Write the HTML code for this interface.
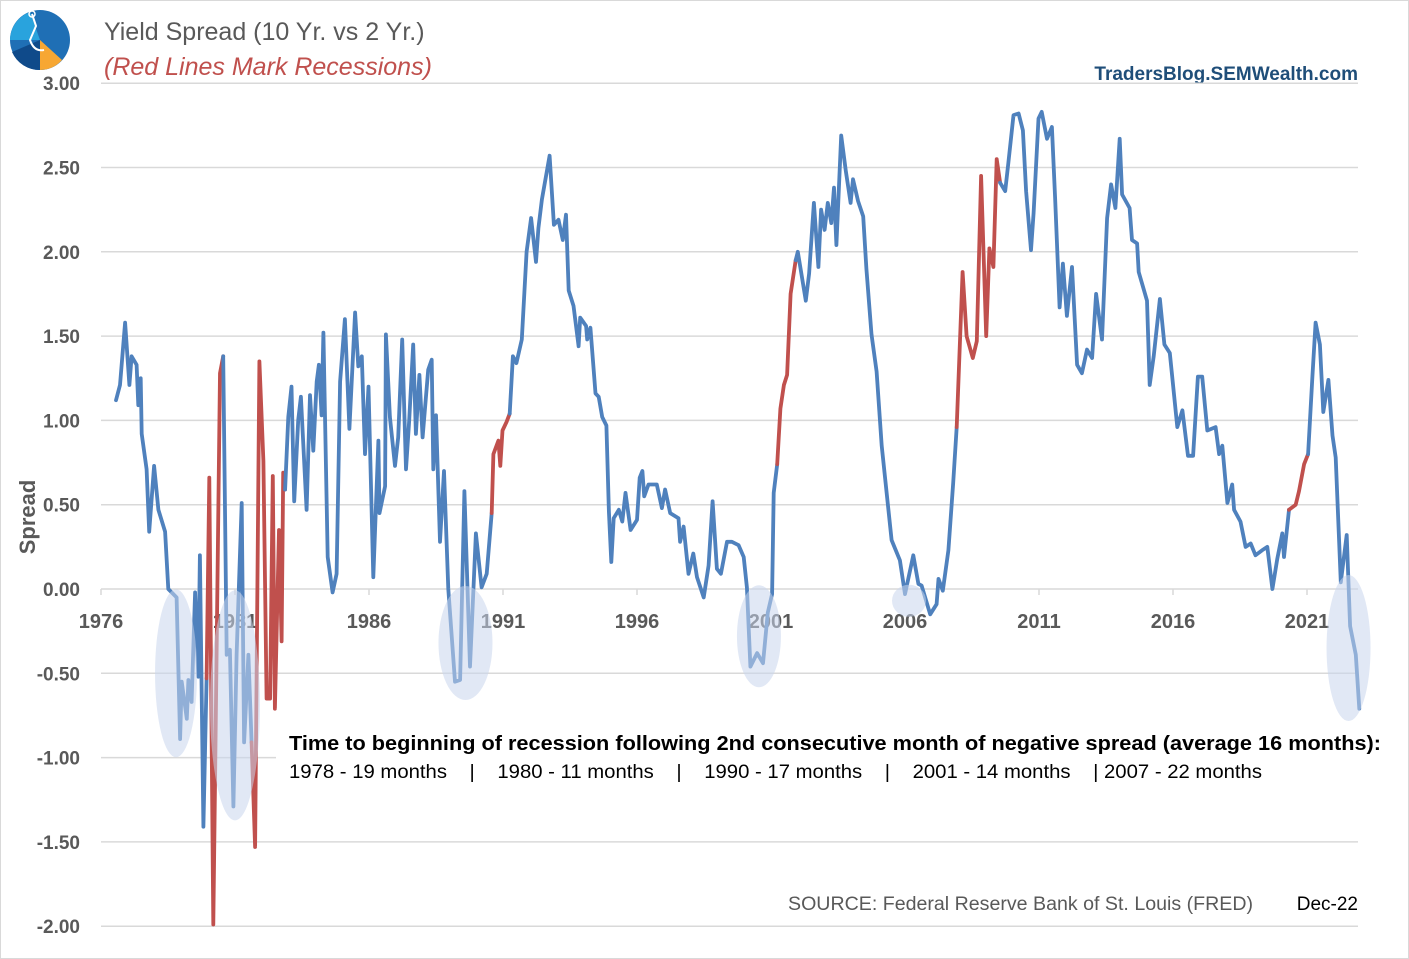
<!DOCTYPE html>
<html><head><meta charset="utf-8"><style>
html,body{margin:0;padding:0;background:#fff}
svg{display:block;font-family:"Liberation Sans",sans-serif}
</style></head><body>
<svg id="chart" width="1409" height="959" viewBox="0 0 1409 959" xmlns="http://www.w3.org/2000/svg">
<rect x="0.5" y="0.5" width="1408" height="958" fill="#fff" stroke="#d9d9d9"/>
<g>
<circle cx="40" cy="40" r="30" fill="#1f6fb5"/>
<path d="M40,40 L10,40 A30,30 0 0 1 30,12 Z" fill="#29a3dd"/>
<path d="M40,40 L12,52 A30,30 0 0 0 40,70 Z" fill="#0f4a8a"/>
<path d="M40,40 L40,70 A30,30 0 0 0 62,60 Z" fill="#f7a733"/>
<path d="M32,14 L36,26 L30,40 Q34,52 44,50" fill="none" stroke="#fff" stroke-width="2"/>
<circle cx="32" cy="14" r="3" fill="none" stroke="#fff" stroke-width="1.5"/>
</g>
<text x="104" y="40" font-size="25" fill="#595959">Yield Spread (10 Yr. vs 2 Yr.)</text>
<text x="104" y="75" font-size="25" font-style="italic" fill="#c0504d">(Red Lines Mark Recessions)</text>
<text x="1358" y="80" font-size="19" font-weight="bold" fill="#1f4e79" text-anchor="end">TradersBlog.SEMWealth.com</text>
<text transform="translate(35,517) rotate(-90)" font-size="22" font-weight="bold" fill="#595959" text-anchor="middle">Spread</text>
<g id="grid"></g>
<g id="yticks"></g>
<g id="xticks"></g>
<g id="series"></g>
<g id="ellipses"></g>
<rect x="276" y="722" width="1112" height="64" fill="#fff"/>
<text x="289" y="750" font-size="20" font-weight="bold" fill="#000" textLength="1092" lengthAdjust="spacingAndGlyphs">Time to beginning of recession following 2nd consecutive month of negative spread (average 16 months):</text>
<text x="289" y="778" font-size="19.5" fill="#000" xml:space="preserve" textLength="973" lengthAdjust="spacingAndGlyphs">1978 - 19 months    |    1980 - 11 months    |    1990 - 17 months    |    2001 - 14 months    | 2007 - 22 months</text>
<text x="788" y="910" font-size="19" fill="#595959" textLength="465" lengthAdjust="spacingAndGlyphs">SOURCE:  Federal Reserve Bank of St. Louis (FRED)</text>
<text x="1358" y="910" font-size="19" fill="#000" text-anchor="end">Dec-22</text>
</svg>
<script>
const dates = [1976.56,1976.71,1976.9,1977.06,1977.14,1977.33,1977.39,1977.48,1977.52,1977.7,1977.8,1977.98,1978.14,1978.39,1978.51,1978.82,1978.95,1979.01,1979.2,1979.26,1979.38,1979.51,1979.63,1979.69,1979.82,1979.94,1980.04,1980.19,1980.44,1980.56,1980.69,1980.81,1980.94,1981.06,1981.25,1981.34,1981.5,1981.62,1981.75,1981.91,1982.06,1982.18,1982.31,1982.41,1982.49,1982.64,1982.74,1982.8,1982.87,1982.99,1983.11,1983.21,1983.36,1983.46,1983.67,1983.8,1983.92,1984.05,1984.13,1984.23,1984.3,1984.46,1984.64,1984.79,1984.92,1985.1,1985.27,1985.48,1985.6,1985.73,1985.85,1985.98,1986.16,1986.35,1986.39,1986.6,1986.63,1986.78,1986.97,1987.09,1987.24,1987.38,1987.5,1987.65,1987.75,1987.88,1988.0,1988.21,1988.34,1988.4,1988.5,1988.65,1988.8,1988.96,1989.21,1989.4,1989.56,1989.77,1989.99,1990.2,1990.39,1990.58,1990.64,1990.83,1990.9,1990.98,1991.13,1991.25,1991.37,1991.5,1991.7,1991.88,1992.05,1992.23,1992.32,1992.45,1992.74,1992.9,1993.07,1993.23,1993.35,1993.45,1993.63,1993.82,1993.88,1994.1,1994.14,1994.26,1994.45,1994.57,1994.7,1994.86,1994.95,1995.04,1995.13,1995.32,1995.45,1995.57,1995.76,1996.0,1996.1,1996.2,1996.27,1996.43,1996.74,1996.93,1997.05,1997.24,1997.55,1997.61,1997.74,1997.92,1998.1,1998.24,1998.49,1998.67,1998.82,1998.98,1999.13,1999.36,1999.54,1999.79,1999.98,2000.1,2000.23,2000.48,2000.7,2000.88,2001.04,2001.1,2001.23,2001.35,2001.48,2001.6,2001.73,2001.92,2002.0,2002.3,2002.42,2002.6,2002.77,2002.87,2003.0,2003.12,2003.25,2003.35,2003.44,2003.62,2003.79,2003.97,2004.06,2004.25,2004.44,2004.56,2004.75,2004.94,2005.13,2005.5,2005.81,2006.0,2006.31,2006.5,2006.62,2006.94,2007.18,2007.25,2007.41,2007.62,2007.8,2007.93,2008.15,2008.3,2008.53,2008.68,2008.84,2009.03,2009.15,2009.3,2009.42,2009.55,2009.74,2009.86,2010.05,2010.24,2010.4,2010.52,2010.7,2010.8,2010.98,2011.1,2011.3,2011.48,2011.6,2011.77,2011.89,2012.04,2012.23,2012.42,2012.6,2012.79,2012.98,2013.13,2013.35,2013.54,2013.69,2013.85,2014.01,2014.1,2014.38,2014.47,2014.66,2014.72,2015.03,2015.13,2015.28,2015.51,2015.68,2015.88,2015.97,2016.16,2016.35,2016.56,2016.75,2016.93,2017.09,2017.28,2017.59,2017.72,2017.84,2018.03,2018.21,2018.28,2018.52,2018.71,2018.9,2019.08,2019.33,2019.52,2019.71,2019.89,2020.08,2020.14,2020.33,2020.58,2020.7,2020.89,2021.04,2021.2,2021.32,2021.48,2021.61,2021.8,2021.95,2022.07,2022.26,2022.48,2022.61,2022.82,2022.95];
const spreads = [1.12,1.21,1.58,1.21,1.38,1.33,1.09,1.25,0.92,0.71,0.34,0.73,0.47,0.34,0.0,-0.05,-0.89,-0.55,-0.77,-0.54,-0.67,-0.02,-0.52,0.20,-1.41,-0.53,0.66,-1.99,1.28,1.38,-0.39,-0.36,-1.29,-0.39,0.51,-0.91,-0.39,-0.91,-1.53,1.35,0.76,-0.65,-0.65,0.67,-0.71,0.35,-0.31,0.69,0.59,1.02,1.20,0.52,1.0,1.14,0.47,1.15,0.82,1.23,1.33,1.03,1.52,0.19,-0.02,0.09,1.23,1.60,0.95,1.64,1.32,1.38,0.80,1.20,0.07,0.88,0.45,0.61,1.51,1.02,0.73,0.90,1.48,0.71,1.0,1.45,0.92,1.27,0.90,1.30,1.36,0.71,1.03,0.28,0.70,0.0,-0.55,-0.54,0.58,-0.46,0.33,0.01,0.09,0.45,0.80,0.88,0.73,0.94,0.99,1.04,1.38,1.34,1.48,2.0,2.20,1.94,2.14,2.31,2.57,2.16,2.19,2.07,2.22,1.77,1.68,1.44,1.61,1.56,1.48,1.55,1.16,1.14,1.02,0.97,0.46,0.16,0.42,0.47,0.40,0.57,0.35,0.41,0.66,0.70,0.55,0.62,0.62,0.48,0.59,0.45,0.42,0.28,0.37,0.09,0.21,0.07,-0.05,0.14,0.52,0.12,0.09,0.28,0.28,0.26,0.19,0.01,-0.46,-0.38,-0.44,-0.14,-0.03,0.57,0.74,1.07,1.21,1.27,1.75,1.95,2.0,1.71,1.87,2.29,1.91,2.25,2.13,2.29,2.17,2.38,2.04,2.69,2.48,2.29,2.43,2.30,2.21,1.90,1.51,1.29,0.85,0.29,0.17,-0.03,0.20,0.03,0.02,-0.15,-0.09,0.06,-0.01,0.23,0.63,0.96,1.88,1.50,1.37,1.47,2.45,1.50,2.02,1.91,2.55,2.41,2.36,2.53,2.81,2.82,2.72,2.36,2.01,2.23,2.79,2.83,2.67,2.74,2.32,1.67,1.93,1.62,1.91,1.33,1.28,1.42,1.37,1.75,1.48,2.20,2.40,2.26,2.67,2.34,2.26,2.07,2.05,1.88,1.71,1.21,1.38,1.72,1.45,1.40,1.26,0.96,1.06,0.79,0.79,1.26,1.26,0.94,0.96,0.80,0.85,0.51,0.62,0.47,0.40,0.25,0.27,0.20,0.23,0.25,0.0,0.18,0.33,0.19,0.47,0.50,0.58,0.74,0.80,1.26,1.58,1.45,1.05,1.24,0.91,0.78,0.04,0.32,-0.22,-0.39,-0.71];
const recessions = [[1979.99,1980.6],[1981.63,1982.92],[1990.55,1991.3],[2001.2,2001.95],[2007.92,2009.6],[2020.3,2021.05]];
const yTickValues = [3,2.5,2,1.5,1,0.5,0,-0.5,-1,-1.5,-2];
const xTickYears = [1976,1981,1986,1991,1996,2001,2006,2011,2016,2021];
const inversionEllipses = [[1978.8,-0.5,21,84],[1981.0,-0.69,25,115],[1989.6,-0.32,27,57],[2000.55,-0.28,22,51],[2006.15,-0.07,17,16],[2022.55,-0.35,22,73]];

const NS='http://www.w3.org/2000/svg';
const X0=101, X1=1358;
function xs(yr){return X0+(yr-1976)*26.8;}
function ys(v){return 589-v*168.6;}
function mk(tag,attrs,parent){const e=document.createElementNS(NS,tag);for(const k in attrs)e.setAttribute(k,attrs[k]);parent.appendChild(e);return e;}

const grid=document.getElementById('grid'), yt=document.getElementById('yticks'), xt=document.getElementById('xticks');
yTickValues.forEach(v=>{
  const l=mk('line',{x1:X0,x2:X1,y1:ys(v),y2:ys(v),stroke:'#d9d9d9','stroke-width':1.5},grid);
  
  
  const t=mk('text',{x:80,y:ys(v)+7,'font-size':19,'font-weight':'bold',fill:'#595959','text-anchor':'end'},yt);
  t.textContent=v.toFixed(2);
  
  
});
xTickYears.forEach(yr=>{
  const tk=mk('line',{x1:xs(yr),x2:xs(yr),y1:589,y2:595,stroke:'#d9d9d9','stroke-width':1.5},xt);
  
  
  const t=mk('text',{x:xs(yr),y:628,'font-size':20,'font-weight':'bold',fill:'#595959','text-anchor':'middle'},xt);
  t.textContent=yr;
  
  
});

function inRec(yr){return recessions.some(r=>yr>=r[0]&&yr<=r[1]);}
const series=document.getElementById('series');
let segs=[], cur=null;
for(let i=1;i<dates.length;i++){
  const mid=(dates[i-1]+dates[i])/2;
  const red=inRec(mid);
  if(!cur||cur.red!==red){cur={red:red,pts:[[dates[i-1],spreads[i-1]]]};segs.push(cur);}
  cur.pts.push([dates[i],spreads[i]]);
}
segs.forEach(s=>{
  const p=mk('polyline',{points:s.pts.map(q=>xs(q[0]).toFixed(1)+','+ys(q[1]).toFixed(1)).join(' '),fill:'none',stroke:s.red?'#c0504d':'#4f81bd','stroke-width':3.8,'stroke-linejoin':'round','stroke-linecap':'round'},series);
  
  
});
const eg=document.getElementById('ellipses');
inversionEllipses.forEach(e=>{
  const el=mk('ellipse',{cx:xs(e[0]),cy:ys(e[1]),rx:e[2],ry:e[3],fill:'rgba(200,213,236,0.55)'},eg);
  
  
});
</script>
</body></html>
